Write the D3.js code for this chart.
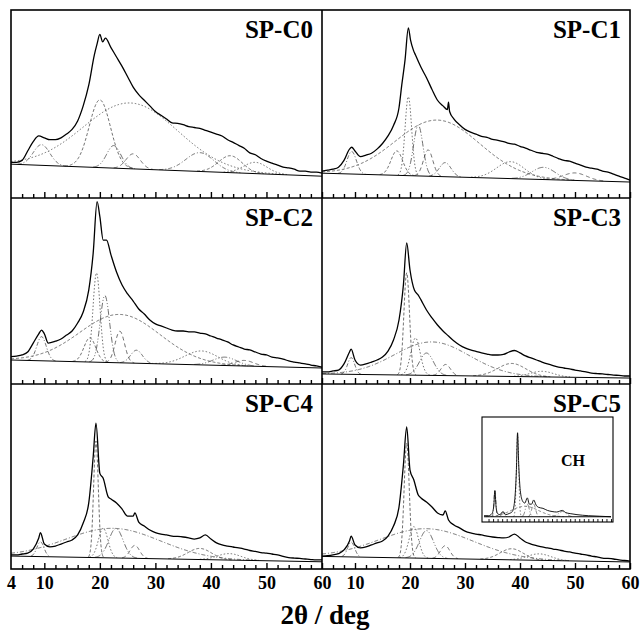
<!DOCTYPE html>
<html><head><meta charset="utf-8">
<script src="https://cdn.jsdelivr.net/npm/d3@7"></script>
<style>
html,body{margin:0;padding:0;background:#fff;}
svg text{font-family:"Liberation Serif","Times New Roman",serif;font-weight:bold;fill:#000;}
</style></head>
<body><svg id="chart" width="640" height="631"></svg>
<script>
// ---------- DATA ----------
const panelNames = ["SP-C0","SP-C1","SP-C2","SP-C3","SP-C4","SP-C5"];
const xTickLabelsLeft = [4,10,20,30,40,50,60];
const xTickLabelsRight = [10,20,30,40,50,60];
const xMajorTicks = [10,20,30,40,50,60];
const xMinorTicks = [6,8,12,14,16,18,22,24,26,28,32,34,36,38,42,44,46,48,52,54,56,58];
const xTitle = "2θ / deg";
const insetName = "CH";

// observed patterns [2θ, intensity (a.u., 0 = panel axis, 100 = panel top)]
const obsC0 = [[4,19],[5,19],[6,20],[7,25],[8,30],[9,33],[10,32],[11,31],[12,31],[13,32],[14,34],[15,36.5],[16,41],[17,49],[18,60],[19,76],[19.5,82],[20,87],[20.5,83],[21,85],[22,80],[23,75],[24,70],[25,64.5],[26,59],[27,55],[28,52],[29,49],[30,46],[31,44],[32,42],[33,40],[34,39.7],[35,39],[36,38],[37,37.5],[38,37],[39,36],[40,35],[41,34],[42,33],[43,31],[44,29.6],[45,28],[46,26.5],[47,24],[48,23],[49,21],[50,19.6],[51,18.5],[52,17.5],[53,16.4],[54,16],[55,15.3],[56,14.3],[57,14.3],[58,13.8],[59,13.8],[60,13.2]];
const obsC1 = [[4,14.3],[5,14.8],[6,15.3],[7,16.4],[8,20],[9,26],[9.4,27],[10,25],[11,22],[12,22.8],[13,23.8],[14,26],[15,29],[16,33],[17,38.6],[18,48],[18.5,60],[19.1,73.5],[19.7,90.5],[20.1,84],[20.6,78.8],[21,76],[22,69.5],[23,64],[24,57.7],[25,52],[26,49],[26.8,47],[27,51],[27.2,46],[28,42],[29,39],[30,36.5],[31,35],[32,34],[33,32.8],[34,32.3],[35,31.2],[36,30.7],[37,30],[38,29],[39,28.6],[40,27.5],[41,26.5],[42,25.4],[43,24.3],[44,23.8],[45,23.3],[46,22.2],[47,21],[48,20],[49,19.6],[50,18.5],[51,17.5],[52,16.4],[53,15.9],[54,15.3],[55,14.3],[56,13.8],[57,12.7],[58,11.6],[59,10.6],[60,9.5]];
const obsC2 = [[4,14.7],[5,15],[6,15.6],[7,17.2],[8,22],[9,27],[9.5,29],[10,27],[10.7,22],[12,23],[13,24.2],[14,26.3],[15,28.5],[16,32.8],[17,38.7],[18,50.5],[18.8,70.4],[19.5,98],[20,90],[20.6,77.4],[21.2,77.4],[22,69.4],[23,60.2],[24,53.2],[25,48.4],[26,44.6],[27,40.3],[28,37.6],[29,34.4],[30,32.3],[31,31.2],[32,30.1],[33,29],[34,28.5],[35,28.5],[36,28],[37,28],[38,27.4],[39,26.9],[40,25.8],[41,24.7],[42,23.7],[43,22.6],[44,21],[45,19.9],[46,18.8],[47,18.3],[48,17.2],[49,16.1],[50,15.6],[51,14.5],[52,14],[53,13.4],[54,12.4],[55,11.8],[56,11.3],[57,10.8],[58,10.2],[59,9.7],[60,9.1]];
const obsC3 = [[4,6.5],[5,6.5],[6,7],[7,7.5],[8,10.8],[9,17.2],[9.3,18.8],[10,12.9],[11,10.2],[12,10.8],[13,11.8],[14,12.9],[15,14.5],[16,17.7],[17,23.7],[18,34.4],[18.8,53.2],[19.4,75.8],[20,61.3],[20.8,50.5],[21.5,47.8],[22,45.2],[23,39.8],[24,35.5],[25,31.7],[26,28.5],[27,25.8],[28,23.1],[29,21],[30,19.4],[31,18.3],[32,17.5],[33,16.7],[34,16.1],[35,15.6],[36,15.6],[37,15.9],[38,17.2],[39,18],[40,16.7],[41,15.1],[42,14],[43,12.9],[44,11.8],[45,10.8],[46,9.9],[47,9.1],[48,8.6],[49,8.1],[50,7.5],[51,7],[52,6.5],[53,5.9],[54,5.6],[55,5.4],[56,5.1],[57,4.8],[58,4.6],[59,4.3],[60,4.3]];
const obsC4 = [[4,7.6],[5,7.6],[6,8.1],[7,8.6],[8,10.8],[9,16.8],[9.3,19.6],[10,13.5],[11,12],[12,12.4],[13,13.5],[14,14.6],[15,15.7],[16,18.4],[17,24.9],[18,35.7],[18.8,60.7],[19.3,78.8],[20,51.7],[20.6,49],[21.5,39],[22,37.8],[23,35.7],[24,32.4],[25,28.6],[26,28.6],[26.3,30.3],[27,25.4],[28,23.2],[29,21.1],[30,19.7],[31,18.9],[32,18.4],[33,17.8],[34,17.6],[35,17.3],[36,16.8],[37,16.2],[38,16.8],[39,18.4],[40,16.2],[41,14.1],[42,13],[43,12.4],[44,11.9],[45,11.4],[46,10.8],[47,10],[48,9.5],[49,8.9],[50,8.6],[51,8.1],[52,7.6],[53,6.8],[54,6.2],[55,5.9],[56,5.7],[57,5.4],[58,5.1],[59,4.9],[60,4.9]];
const obsC5 = [[4,7],[5,7.2],[6,7.6],[7,8.3],[8,10.3],[9,15.1],[9.3,17.8],[10,13],[11,11.4],[12,11.9],[13,13],[14,14.1],[15,15.1],[16,17.8],[17,23.2],[18,33.5],[18.8,56.2],[19.4,76.8],[20,53.5],[20.7,48.1],[21.5,40],[22,38.4],[23,36.2],[24,33.5],[25,30.3],[26,29.2],[26.4,31.4],[27,26.5],[28,23.8],[29,22.2],[30,20.5],[31,19.5],[32,18.9],[33,18.4],[34,17.8],[35,17.3],[36,17],[37,16.8],[38,17.3],[39,18.9],[40,16.8],[41,14.6],[42,13.5],[43,12.7],[44,11.9],[45,11.4],[46,10.8],[47,10.3],[48,9.7],[49,9.2],[50,8.6],[51,8.1],[52,7.6],[53,7],[54,6.5],[55,5.9],[56,5.7],[57,5.4],[58,4.9],[59,4.6],[60,4.3]];
const obsCH = [[4,6],[6,6],[7.5,8],[8.3,15],[8.8,30],[9.3,15],[10,8],[11,7],[12.4,10],[13.5,7],[15,8],[16.5,10],[17.5,20],[18.3,50],[18.8,85],[19.3,55],[20,30],[21,20],[22,18],[23.1,23],[24,17],[25,17],[25.9,21],[27,16],[28,14],[30,13],[32,11],[34,10],[36,9.5],[38.6,11],[40,9],[42,8],[45,7],[50,6],[55,5.5],[60,5]];

// linear baselines [value at 4°, value at 60°]
const baseC0 = [18.0, 11.6];
const baseC1 = [13.2, 8.5];
const baseC2 = [12.9, 8.6];
const baseC3 = [5.4, 3.2];
const baseC4 = [7.0, 3.9];
const baseC5 = [6.8, 3.8];
const baseCH = [5, 5];

// fitted components [centre 2θ, height above baseline, FWHM]
const compC0 = [[9.5,11,3.5],[20,36,4.5],[25.5,35,20],[22.5,12,3],[26,8,3],[38,10,6],[43.5,9,5],[48,6,5]];
const compC1 = [[9.4,12,2],[17.6,13,2.5],[19.7,42,1.4],[21.5,27,2],[23.3,14,2],[26.4,7.5,2.5],[25,30,18],[38.3,9,6],[44.3,6.5,5],[50,4,5]];
const compC2 = [[9.5,13,2],[18.2,13,2.5],[19.4,48,1.5],[20.9,36,2],[23.6,17,2],[26.6,7,2.5],[23.6,26,17],[38.3,7.5,7],[42.5,4.5,5],[46,3,4]];
const compC3 = [[9.3,9,1.5],[19.4,55,1.2],[21,20,2],[23,12,3],[26.5,6,2],[24,18,16],[38.5,7,6],[44,3,5]];
const compC4 = [[9.3,8,1.5],[19.3,63,1],[20.6,16,2],[22.9,16,3],[26.3,7,2],[22.4,16,20],[38,6,5],[43.3,3.5,5]];
const compC5 = [[9.3,8,1.5],[19.4,62,1.1],[20.7,17,2],[23,15,3],[26.4,7,2],[23,16,20],[38.5,6,5],[43.5,3.5,5]];
const compCH = [[8.8,25,1],[12.4,4,1.5],[18.8,78,1.2],[23.1,12,2],[25.9,12,2],[38.6,5,4],[22,10,14]];

// ---------- LAYOUT ----------
const svg = d3.select("#chart");
const colX = [[11,322],[322,630]];
const rowY = [10,198,384,569];
const dashes = ["4,2,1,2","3,2","1.5,2","6,2,1,2,1,2","4,3"];

const panels = [
  {name:panelNames[0], obs:obsC0, base:baseC0, comps:compC0},
  {name:panelNames[1], obs:obsC1, base:baseC1, comps:compC1},
  {name:panelNames[2], obs:obsC2, base:baseC2, comps:compC2},
  {name:panelNames[3], obs:obsC3, base:baseC3, comps:compC3},
  {name:panelNames[4], obs:obsC4, base:baseC4, comps:compC4},
  {name:panelNames[5], obs:obsC5, base:baseC5, comps:compC5}
];

const sampleDeg = d3.range(4, 60.001, 0.1);

function drawPattern(g, x, y, obs, base, comps, obsWidth, compWidth) {
  const bl = d => base[0] + (base[1]-base[0])*(d-4)/56;
  comps.forEach((c, i) => {
    const pts = sampleDeg.map(d => [d, bl(d) + c[1]*Math.exp(-4*Math.LN2*Math.pow((d-c[0])/c[2],2))])
      .filter(p => p[1] - bl(p[0]) > 0.15);
    g.append("path").datum(pts)
      .attr("fill","none").attr("stroke","#4a4a4a").attr("stroke-width",compWidth)
      .attr("stroke-dasharray", dashes[i % dashes.length])
      .attr("d", d3.line().x(p => x(p[0])).y(p => y(p[1])));
  });
  g.append("path").datum([4,60])
    .attr("fill","none").attr("stroke","#000").attr("stroke-width",1)
    .attr("d", d3.line().x(d => x(d)).y(d => y(bl(d))));
  g.append("path").datum(obs)
    .attr("fill","none").attr("stroke","#000").attr("stroke-width",obsWidth)
    .attr("stroke-linejoin","round")
    .attr("d", d3.line().x(p => x(p[0])).y(p => y(p[1])).curve(d3.curveMonotoneX));
}

panels.forEach((p, i) => {
  const col = i % 2, row = Math.floor(i / 2);
  const x = d3.scaleLinear().domain([4,60]).range(colX[col]);
  const y = d3.scaleLinear().domain([0,100]).range([rowY[row+1], rowY[row]]);
  const g = svg.append("g");
  drawPattern(g, x, y, p.obs, p.base, p.comps, 1.3, 0.8);

  const axMinor = d3.axisBottom(x).tickValues(xMinorTicks).tickSize(-4).tickFormat("");
  const gm = svg.append("g").attr("transform",`translate(0,${rowY[row+1]})`).call(axMinor);
  gm.select(".domain").remove();
  gm.selectAll("line").attr("stroke","#000").attr("stroke-width",1.4);

  const isBottom = row === 2;
  const labels = col === 0 ? xTickLabelsLeft : xTickLabelsRight;
  const axMajor = d3.axisBottom(x)
    .tickValues(isBottom ? labels : xMajorTicks)
    .tickSize(-6).tickPadding(7)
    .tickFormat(isBottom ? d3.format("d") : "");
  const gM = svg.append("g").attr("transform",`translate(0,${rowY[row+1]})`).call(axMajor);
  gM.select(".domain").remove();
  gM.selectAll("line").attr("stroke","#000").attr("stroke-width",1.4);
  gM.selectAll(".tick").filter(d => d === 4).select("line").remove();
  gM.selectAll("text").attr("font-size",18).attr("font-family","Liberation Serif, serif").attr("font-weight","bold");

  svg.append("text")
    .attr("x", colX[col][1] - 9).attr("y", rowY[row] + 28)
    .attr("text-anchor","end").attr("font-size",25)
    .text(p.name);
});

const frame = svg.append("g").attr("stroke","#000").attr("fill","none");
frame.append("rect").attr("x",colX[0][0]).attr("y",rowY[0])
  .attr("width",colX[1][1]-colX[0][0]).attr("height",rowY[3]-rowY[0]).attr("stroke-width",1.6);
frame.append("line").attr("x1",colX[0][1]).attr("x2",colX[0][1]).attr("y1",rowY[0]).attr("y2",rowY[3]).attr("stroke-width",1.6);
[rowY[1], rowY[2]].forEach(yy => {
  frame.append("line").attr("x1",colX[0][0]).attr("x2",colX[1][1]).attr("y1",yy).attr("y2",yy).attr("stroke-width",1.6);
});

// inset (CH)
const inset = {x0:482, x1:613, y0:417, y1:522};
svg.append("rect").attr("x",inset.x0).attr("y",inset.y0)
  .attr("width",inset.x1-inset.x0).attr("height",inset.y1-inset.y0)
  .attr("fill","#fff").attr("stroke","#000").attr("stroke-width",1.1);
const xi = d3.scaleLinear().domain([4,60]).range([inset.x0+2, inset.x1-2]);
const yi = d3.scaleLinear().domain([0,100]).range([inset.y1, inset.y0]);
const gi = svg.append("g");
drawPattern(gi, xi, yi, obsCH, baseCH, compCH, 0.9, 0.7);
const gia = svg.append("g").attr("transform",`translate(0,${inset.y1})`)
  .call(d3.axisBottom(xi).tickValues(xMinorTicks.concat(xMajorTicks)).tickSize(-3).tickFormat(""));
gia.select(".domain").remove();
gia.selectAll("line").attr("stroke","#000").attr("stroke-width",0.9);
svg.append("text").attr("x",561).attr("y",466).attr("font-size",16).text(insetName);

svg.append("text").attr("x",325).attr("y",624).attr("text-anchor","middle")
  .attr("font-size",27).text(xTitle);
</script>
</body></html>
